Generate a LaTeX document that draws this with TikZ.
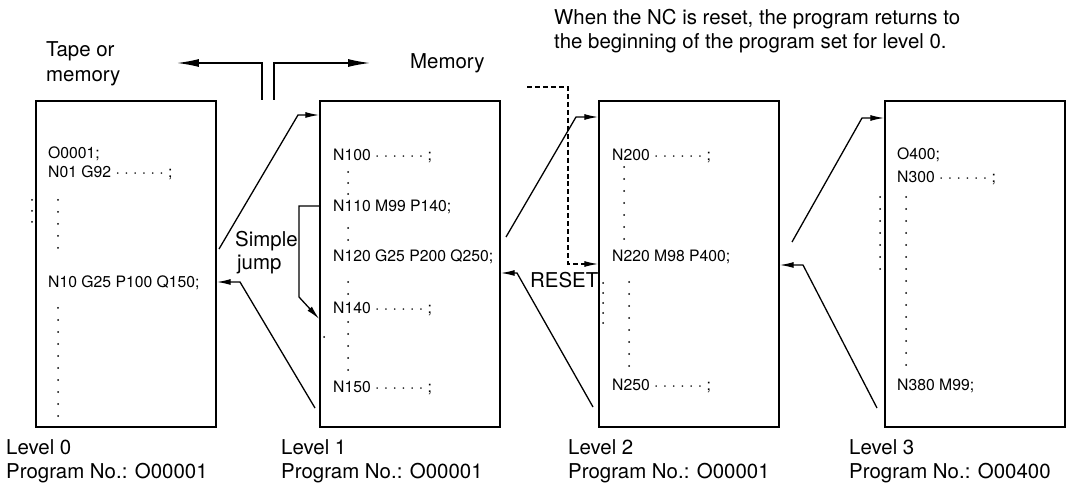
\documentclass[tikz,border=0pt]{standalone}
\usepackage{fontspec}
\setmainfont{TeX Gyre Heros}
\usepackage{tikz}
\usetikzlibrary{arrows.meta, positioning}

\begin{document}
\begin{tikzpicture}[
    x=1bp, y=-1bp,
    prog/.style={rectangle, draw, line width=1.5pt, minimum width=180bp, minimum height=326bp, inner sep=0pt},
    code/.style={anchor=base west, inner sep=0pt, font=\fontsize{15.8}{19}\selectfont},
    lbl/.style={anchor=base west, inner sep=0pt, font=\fontsize{20.5}{24}\selectfont},
    arrow/.style={line width=1.3pt, -{Latex[length=14pt, width=6pt]}},
    bigarrow/.style={line width=1.3pt, -{Latex[length=22pt, width=8pt]}}
]
\useasboundingbox (0,0) rectangle (1073,486);

% program boxes
\node (lv0) [prog] at (126,264) {};
\node (lv1) [prog] at (410,264) {};
\node (lv2) [prog] at (689,264) {};
\node (lv3) [prog] at (975,264) {};

% header texts
\node (tape1) [lbl] at (46,57) {Tape or};
\node (tape2) [lbl] at (46,82) {memory};
\node (mem) [lbl] at (410,69) {Memory};
\node (note1) [lbl] at (554,25) {When the NC is reset, the program returns to};
\node (note2) [lbl] at (554,49) {the beginning of the program set for level 0.};

% level 0
\node (o0001) [code] at (48,159) {O0001;};
\node (n01) [code] at (48,178) {N01 G92 · · · · · · ;};
\node (n10) [code] at (48,288) {N10 G25 P100 Q150;};
\foreach \y in {200,212,...,248} \fill (58,\y) circle (1bp);
\foreach \y in {308,320,...,416} \fill (58,\y) circle (1bp);
\foreach \y in {200,211,222} \fill (32,\y) circle (1bp);

% level 1
\node (n100) [code] at (333,161) {N100 · · · · · · ;};
\node (n110) [code] at (333,212) {N110 M99 P140;};
\node (n120) [code] at (333,262) {N120 G25 P200 Q250;};
\node (n140) [code] at (333,314) {N140 · · · · · · ;};
\node (n150) [code] at (333,392) {N150 · · · · · · ;};
\foreach \y in {172,183,194,228,240,282,294,322,334,346,358,370} \fill (348,\y) circle (1bp);
\fill (324,337) circle (1bp);

% level 2
\node (n200) [code] at (612,161) {N200 · · · · · · ;};
\node (n220) [code] at (612,262) {N220 M98 P400;};
\node (n250) [code] at (612,390) {N250 · · · · · · ;};
\foreach \y in {167,179,...,239} \fill (624,\y) circle (1bp);
\foreach \y in {282,294,...,366} \fill (629,\y) circle (1bp);
\foreach \y in {283,293,...,323} \fill (603,\y) circle (1bp);

% level 3
\node (o400) [code] at (897,160) {O400;};
\node (n300) [code] at (897,183) {N300 · · · · · · ;};
\node (n380) [code] at (897,390) {N380 M99;};
\foreach \y in {197,209,...,365} \fill (906,\y) circle (1bp);
\foreach \y in {197,209,...,269} \fill (880,\y) circle (1bp);

% labels below
\node (lev0) [lbl] at (6,454) {Level 0};
\node (pno0) [lbl] at (6,478) {Program No.: O00001};
\node (lev1) [lbl] at (281,454) {Level 1};
\node (pno1) [lbl] at (281,478) {Program No.: O00001};
\node (lev2) [lbl] at (568,454) {Level 2};
\node (pno2) [lbl] at (568,478) {Program No.: O00001};
\node (lev3) [lbl] at (849,454) {Level 3};
\node (pno3) [lbl] at (849,478) {Program No.: O00400};

\node (simple) [lbl] at (235,247) {Simple};
\node (jump) [lbl] at (237,270) {jump};
\node (reset) [lbl] at (530,288) {RESET};

% tape / memory arrows
\coordinate (tl) at (262,100);
\coordinate (tr) at (274,100);
\draw [bigarrow] (tl) -- (262,63) -- (177,63);
\draw [bigarrow] (tr) -- (274,63) -- (370,63);

% calls and returns
\coordinate (s01) at (219,249);
\coordinate (k01) at (298,115);
\draw [arrow] (s01) -- (k01) -- (k01 -| lv1.west);
\coordinate (s10) at (315,408);
\coordinate (k10) at (240,282);
\draw [arrow] (s10) -- (k10) -- (k10 -| lv0.east);

\coordinate (j1) at (299,206);
\coordinate (j2) at (299,297);
\coordinate (j3) at (321,319);
\draw [arrow] (j1 -| lv1.west) -- (j1) -- (j2) -- (j3 -| lv1.west);

\coordinate (s12) at (506,237);
\coordinate (k12) at (576,117);
\draw [arrow] (s12) -- (k12) -- (k12 -| lv2.west);
\coordinate (s21) at (593,407);
\coordinate (k21) at (517,273);
\draw [arrow] (s21) -- (k21) -- (k21 -| lv1.east);

\coordinate (r0) at (527,87);
\coordinate (r1) at (568,87);
\coordinate (r2) at (568,264);
\draw [arrow, dashed, dash pattern=on 5pt off 3pt] (r0) -- (r1) -- (r2) -- (r2 -| lv2.west);

\coordinate (s23) at (792,242);
\coordinate (k23) at (862,118);
\draw [arrow] (s23) -- (k23) -- (k23 -| lv3.west);
\coordinate (s32) at (877,408);
\coordinate (k32) at (803,265);
\draw [arrow] (s32) -- (k32) -- (k32 -| lv2.east);

\end{tikzpicture}
\end{document}
